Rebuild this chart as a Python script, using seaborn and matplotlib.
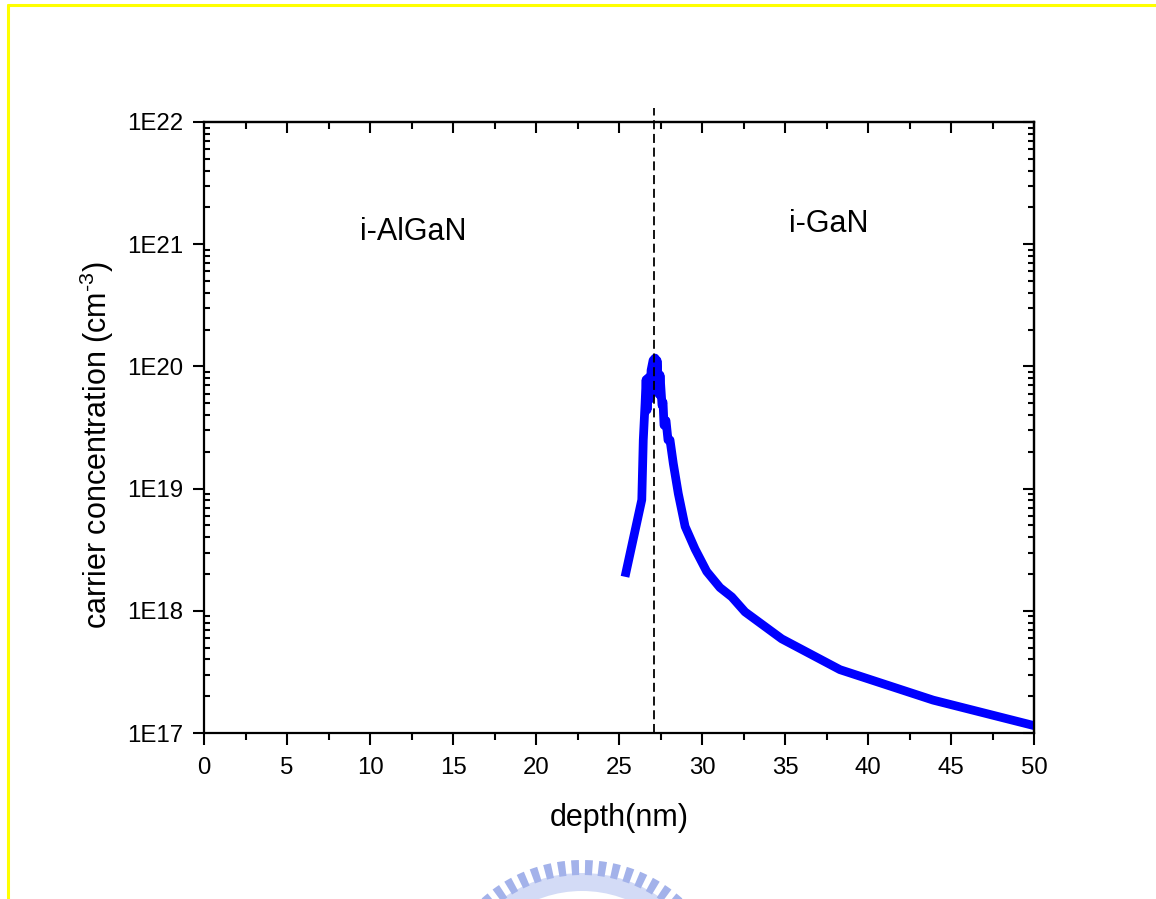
import matplotlib
import matplotlib.pyplot as plt
import numpy as np
import pandas as pd
import seaborn as sns
from matplotlib.lines import Line2D
from matplotlib.patches import Wedge
from matplotlib.ticker import FixedLocator, FuncFormatter, LogLocator, MultipleLocator, NullFormatter

matplotlib.use("Agg")

# carrier profile (depth in nm, concentration in cm^-3)
depth_nm = [
    25.36, 26.02, 26.37, 26.46, 26.57, 26.63, 26.69, 26.77, 26.87, 26.93,
    27.05, 27.17, 27.23, 27.29, 27.41, 27.47, 27.59, 27.65, 27.71, 27.83,
    27.95, 28.07, 28.27, 28.57, 28.98, 29.58, 30.28, 31.08, 31.79, 32.59,
    34.80, 38.31, 43.92, 50.0,
]
concentration = [
    1.9e18, 4.9e18, 8.1e18, 2.5e19, 5.0e19, 7.8e19, 4.4e19, 8.1e19, 5.4e19, 9.3e19,
    1.12e20, 1.17e20, 6.5e19, 1.12e20, 5.9e19, 8.5e19, 4.8e19, 5.1e19, 3.3e19, 3.6e19,
    2.5e19, 2.5e19, 1.6e19, 9.1e18, 4.9e18, 3.2e18, 2.1e18, 1.55e18, 1.3e18, 9.8e17,
    5.9e17, 3.3e17, 1.86e17, 1.15e17,
]

interface_nm = 27.1
region_labels = ["i-AlGaN", "i-GaN"]
region_x = [12.6, 37.65]
region_y = [1.26e21, 1.47e21]

x_ticks = [0, 5, 10, 15, 20, 25, 30, 35, 40, 45, 50]
y_ticks = [1e17, 1e18, 1e19, 1e20, 1e21, 1e22]

df = pd.DataFrame({"depth": depth_nm, "conc": concentration})

sns.set_theme(style="white")
plt.rcParams["font.family"] = ["Liberation Sans", "DejaVu Sans"]
plt.rcParams["mathtext.default"] = "regular"
for key in ["text.color", "axes.labelcolor", "xtick.color", "ytick.color"]:
    plt.rcParams[key] = "black"

fig = plt.figure(figsize=(11.56, 8.99), dpi=100)
ax = fig.add_axes([0.1765, 0.1846, 0.718, 0.6797])

sns.lineplot(
    data=df, x="depth", y="conc", sort=False, estimator=None,
    color="#0000ff", linewidth=6.3, ax=ax,
)
ax.lines[0].set_solid_capstyle("butt")

ax.set_yscale("log")
ax.set_xlim(0, 50)
ax.set_ylim(1e17, 1e22)

ax.axvline(interface_nm, ymin=0, ymax=1.023, color="black", lw=1.3,
           ls=(0, (5, 2.6)), clip_on=False)

for lab, tx, ty in zip(region_labels, region_x, region_y):
    ax.text(tx, ty, lab, ha="center", va="center", fontsize=22)

for sp in ax.spines.values():
    sp.set_linewidth(1.6)
    sp.set_color("black")

ax.xaxis.set_major_locator(FixedLocator(x_ticks))
ax.xaxis.set_minor_locator(MultipleLocator(2.5))
ax.yaxis.set_major_locator(FixedLocator(y_ticks))
ax.yaxis.set_minor_locator(LogLocator(base=10, subs=np.arange(2, 10)))
ax.yaxis.set_minor_formatter(NullFormatter())
ax.yaxis.set_major_formatter(FuncFormatter(lambda v, p: f"1E{int(round(np.log10(v)))}"))

ax.tick_params(axis="x", which="major", direction="out", length=8.5, width=1.5,
               labelsize=17.3, pad=9, top=False, bottom=True)
ax.tick_params(axis="x", which="minor", direction="out", length=5, width=1.5,
               top=False, bottom=True)
ax.tick_params(axis="y", which="major", direction="out", length=8, width=1.5,
               labelsize=17.3, pad=7, right=False, left=True)
ax.tick_params(axis="y", which="minor", direction="in", length=4.5, width=1.5,
               right=False, left=True)

top = ax.secondary_xaxis("top")
top.xaxis.set_major_locator(FixedLocator(x_ticks))
top.xaxis.set_minor_locator(MultipleLocator(2.5))
top.tick_params(which="major", direction="in", length=8, width=1.5, labeltop=False)
top.tick_params(which="minor", direction="in", length=5, width=1.5)
top.spines["top"].set_linewidth(1.6)

right = ax.secondary_yaxis("right")
right.yaxis.set_major_locator(FixedLocator(y_ticks))
right.yaxis.set_minor_locator(LogLocator(base=10, subs=np.arange(2, 10)))
right.yaxis.set_minor_formatter(NullFormatter())
right.tick_params(which="major", direction="in", length=8, width=1.5, labelright=False)
right.tick_params(which="minor", direction="in", length=4.5, width=1.5)
right.spines["right"].set_linewidth(1.6)

ax.set_xlabel("depth(nm)", fontsize=22)
ax.set_ylabel("carrier concentration (cm$^{\u2010 3}$)", fontsize=22)
ax.xaxis.set_label_coords(0.5, -0.115)
ax.yaxis.set_label_coords(-0.106, 0.471)

# partial yellow frame
fig.add_artist(Line2D([7.5 / 1156, 1.0], [1 - 4.5 / 899, 1 - 4.5 / 899],
                      transform=fig.transFigure, color="#ffff00", lw=2.2))
fig.add_artist(Line2D([7.5 / 1156, 7.5 / 1156], [0.0, 1 - 4.5 / 899],
                      transform=fig.transFigure, color="#ffff00", lw=2.2))

# faint seal watermark cut by the bottom edge
cx, cy = 5.82, -1.11
fig.add_artist(Wedge((cx, cy), 1.37, 15, 165, width=0.18,
                     transform=fig.dpi_scale_trans, color="#d3dbf6", lw=0))
for ang in np.arange(21, 162, 5.4):
    fig.add_artist(Wedge((cx, cy), 1.5, ang, ang + 3.0, width=0.15,
                         transform=fig.dpi_scale_trans, color="#a3b2ea", lw=0))

fig.savefig("out.png", dpi=100, facecolor="white")
plt.close(fig)
